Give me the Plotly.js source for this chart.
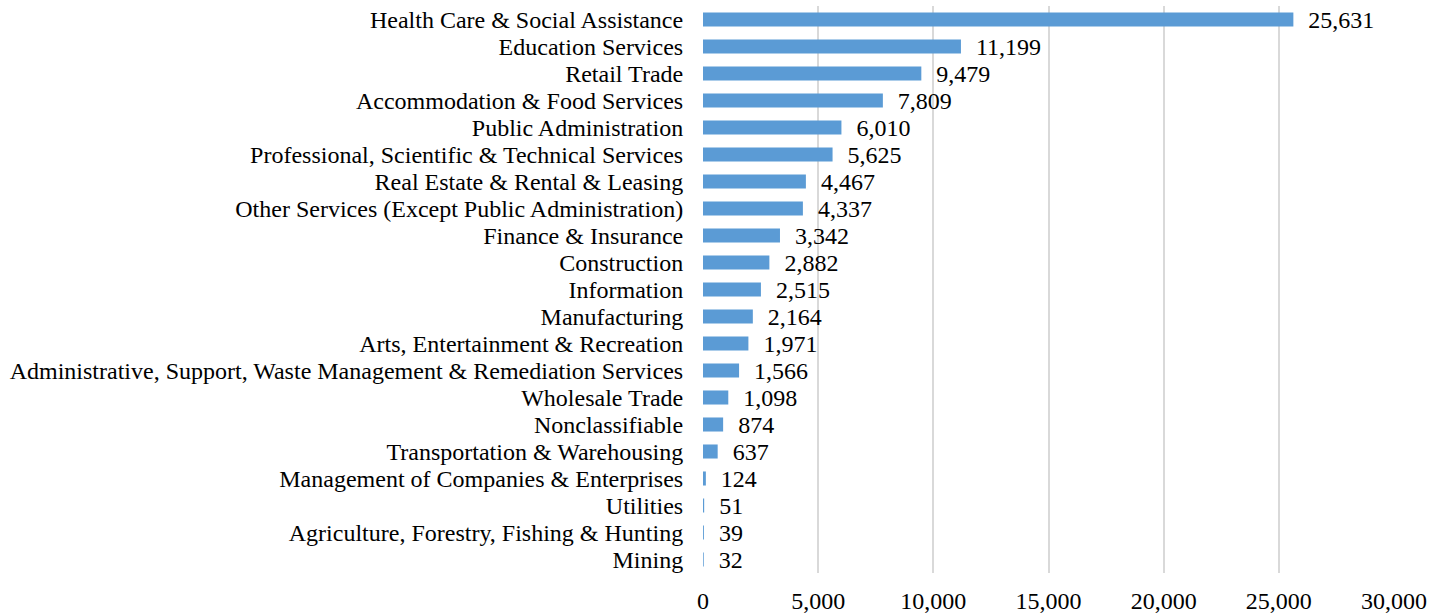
<!DOCTYPE html>
<html>
<head>
<meta charset="utf-8">
<script src="https://cdn.plot.ly/plotly-3.0.1.min.js"></script>
<style>html,body{margin:0;padding:0;background:#fff;}#chart{width:1445px;height:616px;}</style>
</head>
<body>
<div id="chart"></div>
<script>
const categories = [
  "Health Care & Social Assistance",
  "Education Services",
  "Retail Trade",
  "Accommodation & Food Services",
  "Public Administration",
  "Professional, Scientific & Technical Services",
  "Real Estate & Rental & Leasing",
  "Other Services (Except Public Administration)",
  "Finance & Insurance",
  "Construction",
  "Information",
  "Manufacturing",
  "Arts, Entertainment & Recreation",
  "Administrative, Support, Waste Management & Remediation Services",
  "Wholesale Trade",
  "Nonclassifiable",
  "Transportation & Warehousing",
  "Management of Companies & Enterprises",
  "Utilities",
  "Agriculture, Forestry, Fishing & Hunting",
  "Mining"
];
const values = [25631, 11199, 9479, 7809, 6010, 5625, 4467, 4337, 3342, 2882, 2515, 2164, 1971, 1566, 1098, 874, 637, 124, 51, 39, 32];
const tickVals = [0, 5000, 10000, 15000, 20000, 25000, 30000];
const tickText = ["0", "5,000", "10,000", "15,000", "20,000", "25,000", "30,000"];

const fontFam = "'Liberation Serif', 'Times New Roman', serif";
const trace = {
  type: 'bar',
  orientation: 'h',
  y: categories,
  x: values,
  marker: {color: '#5B9BD5'},
  text: values.map(v => '\u00a0\u00a0' + v.toLocaleString('en-US')),
  textposition: 'outside',
  constraintext: 'none',
  cliponaxis: false,
  textfont: {family: fontFam, size: 24, color: '#000'},
  hoverinfo: 'none'
};
const layout = {
  width: 1445, height: 616,
  margin: {l: 703, r: 51, t: 6, b: 43},
  paper_bgcolor: '#fff', plot_bgcolor: '#fff',
  bargap: 0.48,
  showlegend: false,
  font: {family: fontFam, size: 24, color: '#000'},
  xaxis: {
    range: [0, 30000],
    tickmode: 'array', tickvals: tickVals, ticktext: tickText,
    showgrid: true, gridcolor: '#d9d9d9', gridwidth: 2,
    zeroline: false, showline: false,
    ticks: 'outside', ticklen: 6, tickcolor: 'rgba(0,0,0,0)',
    tickfont: {family: fontFam, size: 24, color: '#000'},
    fixedrange: true
  },
  yaxis: {
    autorange: 'reversed',
    tickmode: 'array', tickvals: categories, ticktext: categories,
    showgrid: false, zeroline: false, showline: false,
    ticks: 'outside', ticklen: 14, tickcolor: 'rgba(0,0,0,0)',
    tickfont: {family: fontFam, size: 24, color: '#000'},
    fixedrange: true
  }
};
Plotly.newPlot('chart', [trace], layout, {displayModeBar: false, staticPlot: true});
</script>
</body>
</html>
